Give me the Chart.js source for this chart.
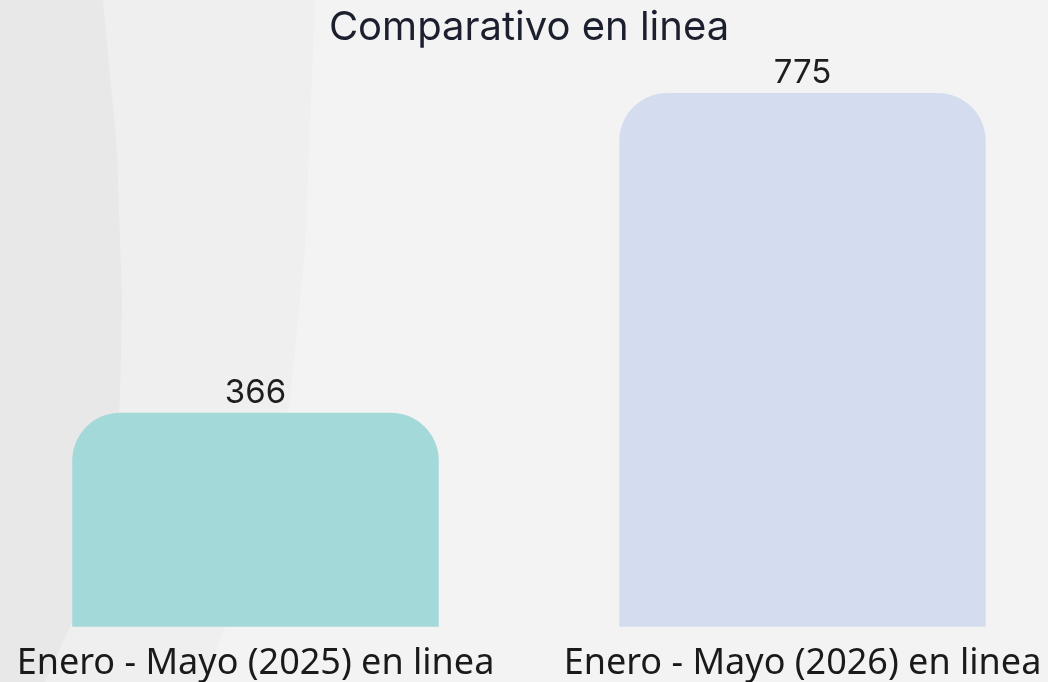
<!DOCTYPE html>
<html>
<head>
<meta charset="utf-8">
<script src="https://cdn.jsdelivr.net/npm/chart.js@4.4.1/dist/chart.umd.min.js"></script>
<style>
  html, body { margin: 0; padding: 0; }
  body { width: 1048px; height: 682px; overflow: hidden; position: relative; background: #f3f3f3; }
  .band { position: absolute; left: 0; top: 0; width: 1048px; height: 682px; }
  #band1 { background: #efefef; clip-path: polygon(0 0, 315px 0, 305px 250px, 290px 400px, 262px 520px, 205px 682px, 0 682px); }
  #band2 { background: #e8e8e8; clip-path: polygon(0 0, 103px 0, 117px 150px, 122px 300px, 120px 400px, 110px 500px, 82px 600px, 45px 682px, 0 682px); }
  #wrap { position: absolute; left: -18px; top: 0; width: 1094px; height: 700px; }
</style>
</head>
<body>
<div class="band" id="band1"></div>
<div class="band" id="band2"></div>
<div id="wrap"><canvas id="chart"></canvas></div>
<script>
const categories = ['Enero - Mayo (2025) en linea', 'Enero - Mayo (2026) en linea'];
const values = [366, 775];
const barColors = ['#a4d9d9', '#d3ddef'];

// value labels above each bar
const valueLabels = {
  id: 'valueLabels',
  afterDatasetsDraw(chart) {
    const ctx = chart.ctx;
    const meta = chart.getDatasetMeta(0);
    ctx.save();
    ctx.font = '33px Inter, sans-serif';
    ctx.fillStyle = '#1e1e1e';
    ctx.textAlign = 'center';
    ctx.textBaseline = 'alphabetic';
    meta.data.forEach(function(bar, i) {
      ctx.fillText(values[i], bar.x, bar.y - 10);
    });
    ctx.restore();
  }
};

new Chart(document.getElementById('chart'), {
  type: 'bar',
  data: {
    labels: categories,
    datasets: [{
      data: values,
      backgroundColor: barColors,
      borderRadius: { topLeft: 48, topRight: 48, bottomLeft: 0, bottomRight: 0 },
      borderSkipped: 'start',
      barPercentage: 0.67,
      categoryPercentage: 1
    }]
  },
  options: {
    responsive: true,
    maintainAspectRatio: false,
    animation: false,
    layout: { padding: 0 },
    plugins: {
      legend: { display: false },
      tooltip: { enabled: false },
      title: {
        display: true,
        text: 'Comparativo en linea',
        color: '#1b1f2e',
        font: { family: 'Inter', size: 40, weight: 'normal' },
        padding: { top: 4, bottom: 41 }
      }
    },
    scales: {
      x: {
        grid: { display: false, drawTicks: false, tickLength: 0 },
        border: { display: false },
        ticks: {
          color: '#1a1a1a',
          padding: 15,
          font: { family: 'Noto Sans', size: 36 }
        }
      },
      y: {
        display: false,
        min: 92,
        max: 775
      }
    }
  },
  plugins: [valueLabels]
});
</script>
</body>
</html>
